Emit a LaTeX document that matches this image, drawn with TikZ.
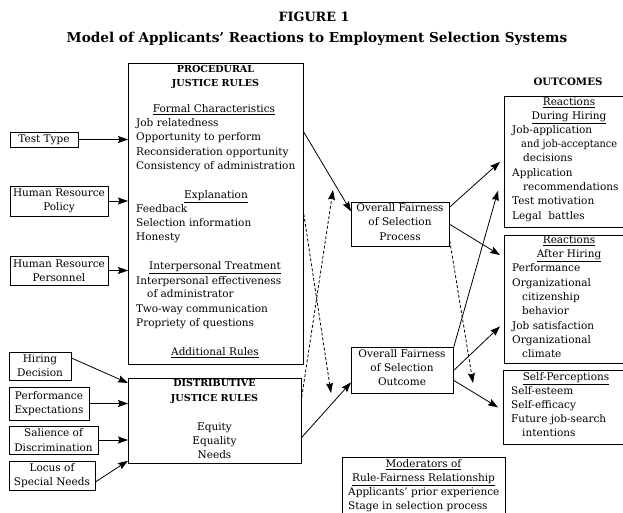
\documentclass[tikz,border=0pt]{standalone}
\usepackage{fontspec}
\usepackage{graphicx}
\setmainfont{DejaVu Serif}
\usetikzlibrary{arrows.meta,calc}
\newcommand\fs{\fontsize{10.5}{14.2}\selectfont}
\newcommand\fb{\fontsize{9.6}{14.2}\selectfont\bfseries}
\tikzset{
  bx/.style={draw, line width=0.75pt, inner sep=0pt},
  sbx/.style={bx, align=center, font=\fs},
  tl/.style={anchor=mid west, inner sep=0pt, font=\fs},
  tc/.style={anchor=mid, inner sep=0pt, font=\fs},
  tb/.style={anchor=mid, inner sep=0pt, font=\fb},
  arr/.style={-{Stealth[length=10pt,width=7pt,inset=1.5pt]}, line width=0.8pt},
  darr/.style={arr, dash pattern=on 3pt off 2pt}
}
\begin{document}
\begin{tikzpicture}[x=1pt,y=-1pt]
\useasboundingbox (0,0) rectangle (623,513);
\clip (0,0) rectangle (623,513);
% title
\node[anchor=mid, inner sep=0pt, font=\fontsize{12.8}{15}\selectfont\bfseries] (title1) at (314,19) {FIGURE 1};
\node[anchor=mid, inner sep=0pt, font=\fontsize{13.6}{16}\selectfont\bfseries] (title2) at (317,40) {Model of Applicants' Reactions to Employment Selection Systems};

% main boxes
\node[bx, anchor=north west, minimum width=175pt, minimum height=301pt] (proc) at (128,63) {};
\node[bx, anchor=north west, minimum width=173pt, minimum height=85pt] (dist) at (128,378) {};
\node[bx, anchor=north west, minimum width=98pt, minimum height=44pt] (fp) at (351,202) {};
\node[bx, anchor=north west, minimum width=102pt, minimum height=46pt] (fo) at (351,347) {};
\node[bx, anchor=north west, minimum width=140pt, minimum height=131pt] (rd) at (504,96) {};
\node[bx, anchor=north west, minimum width=140pt, minimum height=128pt] (ra) at (504,235) {};
\node[bx, anchor=north west, minimum width=140pt, minimum height=74pt] (sp) at (503,370) {};
\node[bx, anchor=north west, minimum width=163pt, minimum height=70pt] (mod) at (342,457) {};

% left boxes
\node[sbx, minimum width=68pt, minimum height=15pt] (tt) at (44,139.5) {Test Type};
\node[sbx, minimum width=98pt, minimum height=30pt] (hrp) at (59,201) {Human Resource\\Policy};
\node[sbx, minimum width=98pt, minimum height=29pt] (hrq) at (59,270.5) {Human Resource\\Personnel};
\node[sbx, minimum width=62pt, minimum height=28pt] (hd) at (40,366) {Hiring\\Decision};
\node[sbx, minimum width=80pt, minimum height=33pt] (pe) at (49,403.5) {Performance\\Expectations};
\node[sbx, minimum width=89pt, minimum height=28pt] (sd) at (53.5,440) {Salience of\\Discrimination};
\node[sbx, minimum width=86pt, minimum height=29pt] (ls) at (52,475.5) {Locus of\\Special Needs};

% procedural text
\node[tb] (p1) at (215.5,70) {PROCEDURAL};
\node[tb] (p2) at (215.5,84) {JUSTICE RULES};
\node[tc] (p3) at (214,110) {\underline{Formal Characteristics}};
\node[tl] (p4) at (136,124) {Job relatedness};
\node[tl] (p5) at (136,138) {Opportunity to perform};
\node[tl] (p6) at (136,153) {Reconsideration opportunity};
\node[tl] (p7) at (136,167) {Consistency of administration};
\node[tc] (p8) at (216,196) {\underline{Explanation}};
\node[tl] (p9) at (136,210) {Feedback};
\node[tl] (p10) at (136,224) {Selection information};
\node[tl] (p11) at (136,238) {Honesty};
\node[tc] (p12) at (215,267) {\underline{Interpersonal Treatment}};
\node[tl] (p13) at (136,282) {Interpersonal effectiveness};
\node[tl] (p14) at (147,295) {of administrator};
\node[tl] (p15) at (136,310) {Two-way communication};
\node[tl] (p16) at (136,324) {Propriety of questions};
\node[tc] (p17) at (215,353) {\underline{Additional Rules}};

% distributive text
\node[tb] (d1) at (214.5,384) {DISTRIBUTIVE};
\node[tb] (d2) at (214.5,399) {JUSTICE RULES};
\node[tc] (d3) at (214.5,428) {Equity};
\node[tc] (d4) at (214.5,442) {Equality};
\node[tc] (d5) at (214.5,456) {Needs};

% fairness text
\node[tc] (f1) at (400,209) {Overall Fairness};
\node[tc] (f2) at (400,223) {of Selection};
\node[tc] (f3) at (400,238) {Process};
\node[tc] (g1) at (402,355) {Overall Fairness};
\node[tc] (g2) at (402,369) {of Selection};
\node[tc] (g3) at (402,383) {Outcome};

% outcomes
\node[tb, font=\fontsize{10.2}{14}\selectfont\bfseries] (o0) at (568,83) {OUTCOMES};
\node[tc] (r1) at (569,103) {\underline{Reactions}};
\node[tc] (r2) at (569,117) {\underline{During Hiring}};
\node[tl] (r3) at (512,131) {Job-application};
\node[tl] (r4) at (521,145) {\scalebox{0.93}[1]{and job-acceptance}};
\node[tl] (r5) at (523,159) {decisions};
\node[tl] (r6) at (512,174) {Application};
\node[tl] (r7) at (523,188) {recommendations};
\node[tl] (r8) at (512,202) {Test motivation};
\node[tl] (r9) at (512,217) {Legal\ \ battles};

\node[tc] (a1) at (569,241) {\underline{Reactions}};
\node[tc] (a2) at (569,255) {\underline{After Hiring}};
\node[tl] (a3) at (512,269) {Performance};
\node[tl] (a4) at (512,284) {Organizational};
\node[tl] (a5) at (522,298) {citizenship};
\node[tl] (a6) at (522,312) {behavior};
\node[tl] (a7) at (512,327) {Job satisfaction};
\node[tl] (a8) at (512,341) {Organizational};
\node[tl] (a9) at (522,355) {climate};

\node[tc] (s1) at (566,378) {\underline{Self-Perceptions}};
\node[tl] (s2) at (511,392) {Self-esteem};
\node[tl] (s3) at (511,406) {Self-efficacy};
\node[tl] (s4) at (511,420) {Future job-search};
\node[tl] (s5) at (522,434) {intentions};

\node[tc] (m1) at (423.5,465) {\underline{Moderators of}};
\node[tc] (m2) at (423.5,479) {\underline{Rule-Fairness Relationship}};
\node[tl] (m3) at (348,493) {Applicants' prior experience};
\node[tl] (m4) at (348,507) {Stage in selection process};

% coordinates for free ends
\coordinate (dA) at (331,393);
\coordinate (dB) at (333,190);
\coordinate (dC) at (473,383);

% arrows left
\draw[arr] (tt.east) -- (tt.east -| proc.west);
\draw[arr] (hrp.east) -- (hrp.east -| proc.west);
\draw[arr] (hrq.east) -- (hrq.east -| proc.west);
\draw[arr] ([yshift=8pt]hd.east) -- ([yshift=-5pt]dist.north west);
\draw[arr] (pe.east) -- (pe.east -| dist.west);
\draw[arr] (sd.east) -- (sd.east -| dist.west);
\draw[arr] ([yshift=-6.5pt]ls.east) -- ([yshift=3pt]dist.south west);

% middle arrows
\draw[arr] ([yshift=-69pt]proc.north east) -- ([yshift=13pt]fp.west);
\draw[arr] ([yshift=-16.5pt]dist.east) -- ([yshift=-12pt]fo.west);
\draw[darr] (proc.east) -- (dA);
\draw[darr] ([yshift=-19pt]dist.north east) -- (dB);

% right arrows
\draw[arr] ([yshift=-5pt]fp.north east) -- ([xshift=-4pt]rd.west);
\draw[arr] (fp.east) -- ([xshift=-4pt,yshift=-20pt]ra.north west);
\draw[arr] (fo.north east) -- ([xshift=-6pt,yshift=37pt]rd.south west);
\draw[arr] (fo.east) -- ([xshift=-4pt,yshift=-27pt]ra.west);
\draw[arr] ([yshift=-10pt]fo.east) -- ([xshift=-5pt]sp.west);
\draw[darr] ([yshift=6pt]fp.south east) -- (dC);
\end{tikzpicture}
\end{document}
